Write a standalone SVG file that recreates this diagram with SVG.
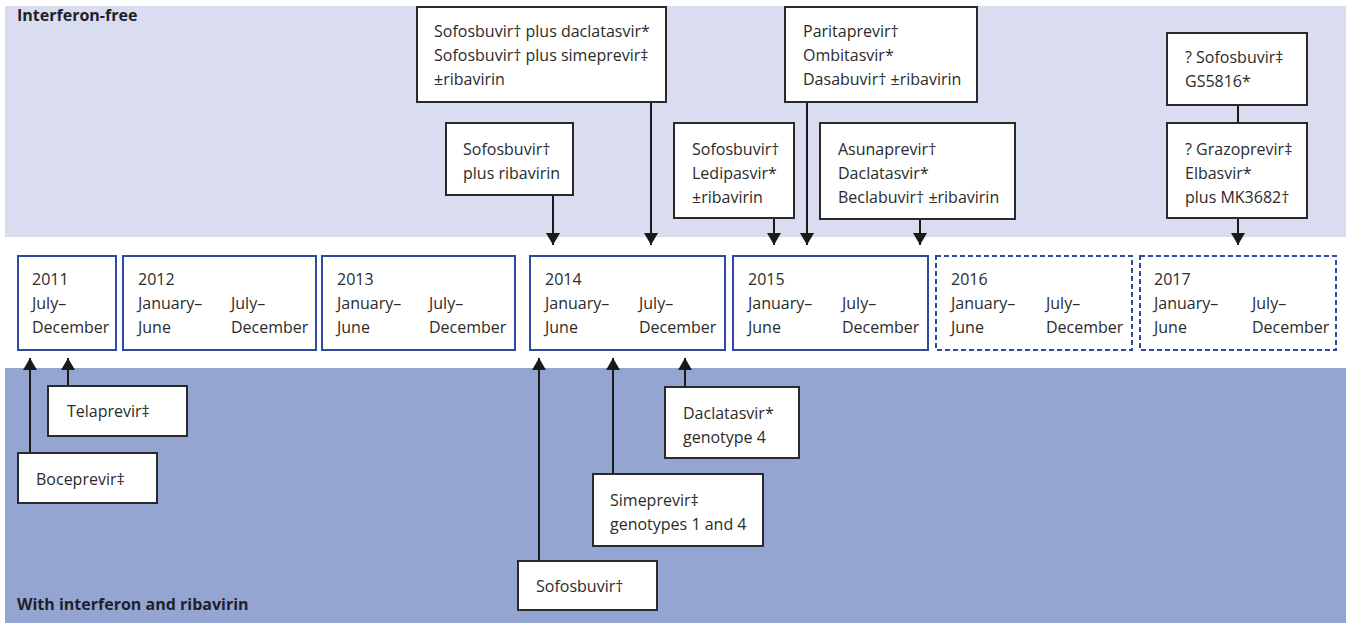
<svg xmlns="http://www.w3.org/2000/svg" width="1351" height="623" viewBox="0 0 1351 623">
<style>
text{font-family:"Open Sans","Liberation Sans",sans-serif;font-size:16px;fill:#2b2b2b}
.h{font-weight:bold;fill:#1f1f2a}
.box{fill:#fff;stroke:#2a2a2a;stroke-width:2}
.yr{fill:#fff;stroke:#2e4a9e;stroke-width:2}
.yrd{fill:#fff;stroke:#2e4a9e;stroke-width:2;stroke-dasharray:5 3}
.c{fill:none;stroke:#1a1a1a;stroke-width:2}
</style>
<defs>
<marker id="ah" viewBox="0 0 12 14" refX="12" refY="7" markerWidth="12" markerHeight="14" markerUnits="userSpaceOnUse" orient="auto">
<path d="M0,0 L12,7 L0,14 z" fill="#1a1a1a"/>
</marker>
</defs>
<rect width="1351" height="623" fill="#fff"/>
<rect x="5" y="6" width="1341" height="231" fill="#d9ddef"/>
<rect x="5" y="368" width="1341" height="255" fill="#94a5d2"/>
<text class="h" x="17" y="21">Interferon-free</text>
<text class="h" x="17" y="610">With interferon and ribavirin</text>

<g id="connectors">
<path class="c" d="M651,102 V245" marker-end="url(#ah)"/>
<path class="c" d="M553,195 V245" marker-end="url(#ah)"/>
<path class="c" d="M774,218 V245" marker-end="url(#ah)"/>
<path class="c" d="M807,102 V245" marker-end="url(#ah)"/>
<path class="c" d="M920,219 V245" marker-end="url(#ah)"/>
<path class="c" d="M1238,105 V123"/>
<path class="c" d="M1238,218 V245" marker-end="url(#ah)"/>
<path class="c" d="M30,453 V358" marker-end="url(#ah)"/>
<path class="c" d="M68,386 V358" marker-end="url(#ah)"/>
<path class="c" d="M539,561 V358" marker-end="url(#ah)"/>
<path class="c" d="M613,474 V358" marker-end="url(#ah)"/>
<path class="c" d="M685,387 V358" marker-end="url(#ah)"/>
</g>

<g id="y2011"><rect class="yr" x="18" y="256" width="98" height="94"/>
<text x="32" y="285">2011</text><text x="32" y="309">July–</text><text x="32" y="333">December</text></g>
<g id="y2012"><rect class="yr" x="123" y="256" width="193" height="94"/>
<text x="138" y="285">2012</text><text x="138" y="309">January–</text><text x="138" y="333">June</text><text x="231" y="309">July–</text><text x="231" y="333">December</text></g>
<g id="y2013"><rect class="yr" x="322" y="256" width="193" height="94"/>
<text x="337" y="285">2013</text><text x="337" y="309">January–</text><text x="337" y="333">June</text><text x="429" y="309">July–</text><text x="429" y="333">December</text></g>
<g id="y2014"><rect class="yr" x="530" y="256" width="195" height="94"/>
<text x="545" y="285">2014</text><text x="545" y="309">January–</text><text x="545" y="333">June</text><text x="639" y="309">July–</text><text x="639" y="333">December</text></g>
<g id="y2015"><rect class="yr" x="733" y="256" width="195" height="94"/>
<text x="748" y="285">2015</text><text x="748" y="309">January–</text><text x="748" y="333">June</text><text x="842" y="309">July–</text><text x="842" y="333">December</text></g>
<g id="y2016"><rect class="yrd" x="936" y="256" width="196" height="94"/>
<text x="951" y="285">2016</text><text x="951" y="309">January–</text><text x="951" y="333">June</text><text x="1046" y="309">July–</text><text x="1046" y="333">December</text></g>
<g id="y2017"><rect class="yrd" x="1140" y="256" width="196" height="94"/>
<text x="1154" y="285">2017</text><text x="1154" y="309">January–</text><text x="1154" y="333">June</text><text x="1252" y="309">July–</text><text x="1252" y="333">December</text></g>

<g id="sof-dac-sim"><rect class="box" x="417" y="7" width="249" height="95"/>
<text x="434" y="37">Sofosbuvir† plus daclatasvir*</text><text x="434" y="61">Sofosbuvir† plus simeprevir‡</text><text x="434" y="85">±ribavirin</text></g>
<g id="sof-rib"><rect class="box" x="446" y="123" width="127" height="72"/>
<text x="463" y="155">Sofosbuvir†</text><text x="463" y="179">plus ribavirin</text></g>
<g id="sof-led"><rect class="box" x="674" y="123" width="120" height="95"/>
<text x="692" y="155">Sofosbuvir†</text><text x="692" y="179">Ledipasvir*</text><text x="692" y="203">±ribavirin</text></g>
<g id="par-omb-das"><rect class="box" x="785" y="7" width="192" height="95"/>
<text x="803" y="37">Paritaprevir†</text><text x="803" y="61">Ombitasvir*</text><text x="803" y="85">Dasabuvir† ±ribavirin</text></g>
<g id="asu-dac-bec"><rect class="box" x="820" y="123" width="195" height="96"/>
<text x="838" y="155">Asunaprevir†</text><text x="838" y="179">Daclatasvir*</text><text x="838" y="203">Beclabuvir† ±ribavirin</text></g>
<g id="sof-gs"><rect class="box" x="1167" y="33" width="140" height="72"/>
<text x="1185" y="63">? Sofosbuvir‡</text><text x="1185" y="87">GS5816*</text></g>
<g id="gra-elb"><rect class="box" x="1167" y="123" width="140" height="95"/>
<text x="1185" y="155">? Grazoprevir‡</text><text x="1185" y="179">Elbasvir*</text><text x="1185" y="203">plus MK3682†</text></g>

<g id="telaprevir"><rect class="box" x="48" y="386" width="139" height="50"/>
<text x="67" y="417">Telaprevir‡</text></g>
<g id="boceprevir"><rect class="box" x="18" y="453" width="139" height="50"/>
<text x="36" y="485">Boceprevir‡</text></g>
<g id="sofosbuvir"><rect class="box" x="518" y="561" width="139" height="49"/>
<text x="536" y="592">Sofosbuvir†</text></g>
<g id="simeprevir"><rect class="box" x="593" y="474" width="170" height="72"/>
<text x="610" y="506">Simeprevir‡</text><text x="610" y="530">genotypes 1 and 4</text></g>
<g id="daclatasvir"><rect class="box" x="665" y="387" width="134" height="71"/>
<text x="683" y="419">Daclatasvir*</text><text x="683" y="443">genotype 4</text></g>
</svg>
